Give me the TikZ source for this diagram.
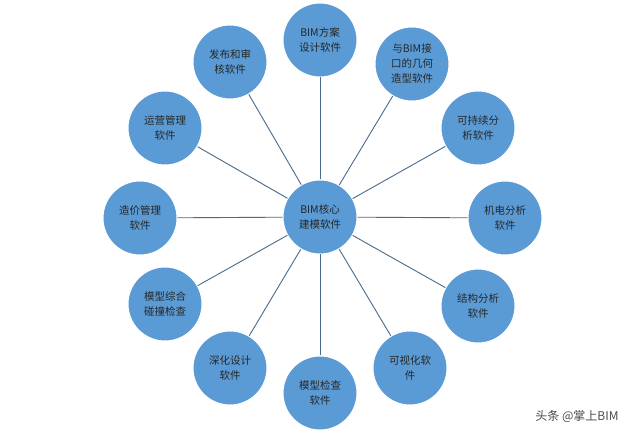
\documentclass[tikz,border=0pt]{standalone}
\usepackage{fontspec}
\setmainfont{Noto Sans CJK SC}
\begin{document}
\begin{tikzpicture}[x=1pt,y=-1pt,
  bub/.style={circle,fill=bubfill,draw=white,line width=1pt,minimum size=74pt,inner sep=0pt,align=center,font=\fontsize{10.5}{15}\selectfont,text=black!85},
  link/.style={draw=linkc,line width=0.9pt}]
\definecolor{bubfill}{HTML}{5B9BD5}
\definecolor{linkc}{HTML}{4A6A8A}
\useasboundingbox (0,0) rectangle (640,435);
\fill[white] (0,0) rectangle (640,435);
\node[bub] (c) at (320,217) {BIM核心\\建模软件};
\foreach \n/\x/\y/\t in {
 a/320/40/{BIM方案\\设计软件},
 b/412/64/{与BIM接\\口的几何\\造型软件},
 d/478/128/{可持续分\\析软件},
 e/505/218/{机电分析\\软件},
 f/478/306/{结构分析\\软件},
 g/410/368/{可视化软\\件},
 h/320/393/{模型检查\\软件},
 i/230/368/{深化设计\\软件},
 j/165/304/{模型综合\\碰撞检查},
 k/140/218/{造价管理\\软件},
 l/165/128/{运营管理\\软件},
 m/230/62/{发布和审\\核软件}}
{ \node[bub] (\n) at (\x,\y) {\t}; }
\begin{scope}[on background layer/.style={}]
\foreach \n in {a,b,d,e,f,g,h,i,j,k,l,m} { \draw[link] (c) -- (\n); }
\end{scope}
\node[font=\fontsize{12}{14}\selectfont,text=black!70] (w) at (577,416) {头条 @掌上BIM};
\end{tikzpicture}
\end{document}
